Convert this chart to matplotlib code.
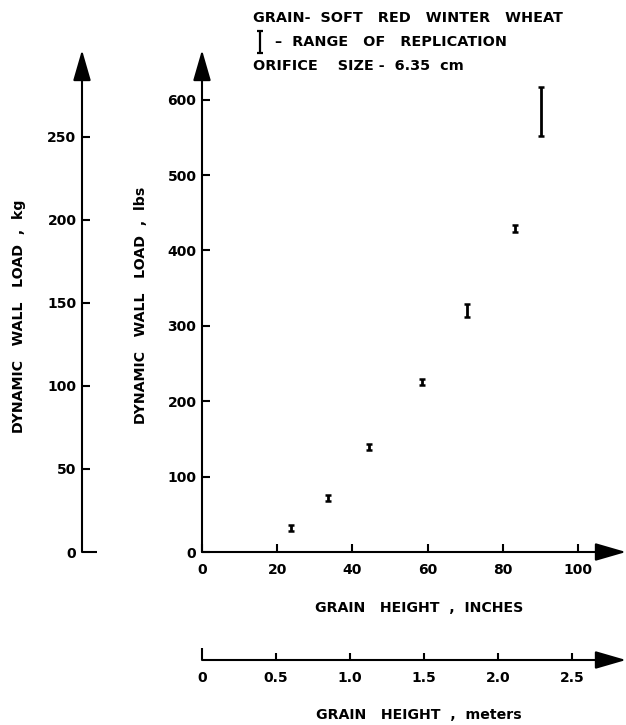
import matplotlib
matplotlib.use("Agg")
import matplotlib.pyplot as plt

# replication ranges (inches, lbs)
height_in = [23.7, 33.4, 44.5, 58.4, 70.4, 83.4, 90.3]
load_low = [28, 67, 135.5, 221, 312, 425, 552]
load_high = [36, 75, 143, 229, 329, 434, 617]

in_ticks = [0, 20, 40, 60, 80, 100]
lbs_ticks = [0, 100, 200, 300, 400, 500, 600]
kg_ticks = [0, 50, 100, 150, 200, 250]
m_ticks = [0, 0.5, 1.0, 1.5, 2.0, 2.5]
m_labels = ["0", "0.5", "1.0", "1.5", "2.0", "2.5"]

LB_PER_KG = 2.20462
M_PER_IN = 0.0254
XMAX = 112.8
YMAX = 666.0

W, H = 626, 725
FONT = dict(family="DejaVu Sans", weight="bold", size=10.4)
LABEL_FONT = dict(family="DejaVu Sans", weight="bold", size=10.2)

plt.rcParams["font.family"] = "DejaVu Sans"
plt.rcParams["font.weight"] = "bold"
plt.rcParams["font.size"] = 10

fig = plt.figure(figsize=(W / 100, H / 100), dpi=100)


def px_box(x0, y_bottom, w, h):
    return [x0 / W, (H - y_bottom) / H, w / W, h / H]


def axis_arrow(ax, end):
    ax.annotate("", xy=end, xytext=(0, 0), xycoords="axes fraction",
                arrowprops=dict(arrowstyle="-|>,head_length=1.9,head_width=0.55",
                                mutation_scale=10, lw=1.5, color="black",
                                shrinkA=0, shrinkB=0),
                annotation_clip=False)


def bare(ax):
    for s in ax.spines.values():
        s.set_visible(False)
    ax.set_facecolor("none")


# main axes (inches / lbs)
ax = fig.add_axes(px_box(202, 552, 424, 502))
bare(ax)
ax.set_xlim(0, XMAX)
ax.set_ylim(0, YMAX)
ax.set_xticks(in_ticks)
ax.set_yticks(lbs_ticks)
ax.tick_params(axis="x", direction="in", length=6, width=1.5, pad=8)
ax.tick_params(axis="y", direction="in", length=6, width=1.5, pad=4)
axis_arrow(ax, (1, 0))
axis_arrow(ax, (0, 1))

mid = [(lo + hi) / 2 for lo, hi in zip(load_low, load_high)]
err = [[m - lo for m, lo in zip(mid, load_low)], [hi - m for hi, m in zip(load_high, mid)]]
ax.errorbar(height_in, mid, yerr=err, fmt="none", ecolor="black",
            elinewidth=2.0, capsize=2.4, capthick=1.8)

# kg axis on the far left
axk = fig.add_axes(px_box(82, 552, 15, 502))
bare(axk)
axk.set_xlim(0, 1)
axk.set_ylim(0, YMAX / LB_PER_KG)
axk.set_xticks([])
axk.set_yticks(kg_ticks)
axk.tick_params(axis="y", direction="in", length=6, width=1.5, pad=4)
axk.yaxis.get_major_ticks()[0].tick1line.set_markersize(11)
axis_arrow(axk, (0, 1))

# meters axis below
axm = fig.add_axes(px_box(202, 660, 424, 10))
bare(axm)
axm.set_xlim(0, XMAX * M_PER_IN)
axm.set_yticks([])
axm.set_xticks(m_ticks)
axm.set_xticklabels(m_labels)
axm.tick_params(axis="x", direction="in", length=5, width=1.5, pad=8)
axm.xaxis.get_major_ticks()[0].tick1line.set_markersize(9)
axis_arrow(axm, (1, 0))

# labels
fig.text(419 / W, 1 - 608 / H, "GRAIN   HEIGHT  ,  INCHES", ha="center", va="center", **LABEL_FONT)
fig.text(419 / W, 1 - 715 / H, "GRAIN   HEIGHT  ,  meters", ha="center", va="center", **LABEL_FONT)
fig.text(141 / W, 1 - 305 / H, "DYNAMIC   WALL   LOAD  ,  lbs", rotation=90,
         ha="center", va="center", **LABEL_FONT)
fig.text(19 / W, 1 - 316 / H, "DYNAMIC   WALL   LOAD  ,  kg", rotation=90,
         ha="center", va="center", **LABEL_FONT)

fig.text(253 / W, 1 - 18 / H, "GRAIN-  SOFT   RED   WINTER   WHEAT", ha="left", va="center", **FONT)
fig.text(275 / W, 1 - 42 / H, "–  RANGE   OF   REPLICATION", ha="left", va="center", **FONT)
fig.text(253 / W, 1 - 66 / H, "ORIFICE    SIZE -  6.35  cm", ha="left", va="center", **FONT)

# replication symbol in the key
axl = fig.add_axes([0, 0, 1, 1])
axl.set_xlim(0, W)
axl.set_ylim(H, 0)
axl.axis("off")
axl.errorbar([260], [42], yerr=[11], fmt="none", ecolor="black",
             elinewidth=1.6, capsize=2.4, capthick=1.6)

fig.savefig("out.png", dpi=100)
